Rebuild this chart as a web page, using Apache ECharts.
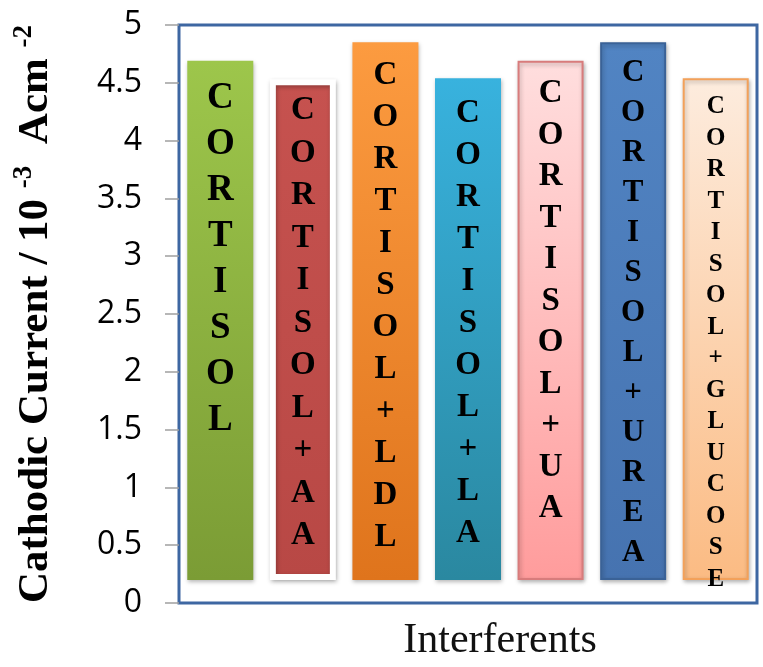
<!DOCTYPE html>
<html>
<head>
<meta charset="utf-8">
<script src="https://cdn.jsdelivr.net/npm/echarts@6/dist/echarts.min.js"></script>
<style>
  html, body { margin: 0; padding: 0; background: #fff; }
  #chart { width: 763px; height: 667px; }
</style>
</head>
<body>
<div id="chart"></div>
<script>
// Samples tested for interference
const categories = [
  'CORTISOL',
  'CORTISOL+AA',
  'CORTISOL+LDL',
  'CORTISOL+LA',
  'CORTISOL+UA',
  'CORTISOL+UREA',
  'CORTISOL+GLUCOSE'
];
// Cathodic current (10^-3 A cm^-2) at the top of each bar
const currentValues = [4.69, 4.53, 4.85, 4.54, 4.69, 4.85, 4.54];
// Bars are drawn floating from this level
const barBase = 0.2;
// Y tick range
const yMin = 0, yMax = 5, yStep = 0.5;

// Per-bar appearance: gradient colours, border, vertical letter sizing
const barLooks = [
  { top: '#9dc64b', bottom: '#7b9c35', border: null, bw: 0, fs: 37, lh: 46, d: 15 },
  { top: '#c6524f', bottom: '#b84845', border: '#ffffff', bw: 6, fs: 33, lh: 42.5, d: 10 },
  { top: '#fc9b40', bottom: '#df741c', border: null, bw: 0, fs: 33, lh: 42, d: 12 },
  { top: '#38b2de', bottom: '#2a88a0', border: null, bw: 0, fs: 33, lh: 42, d: 14 },
  { top: '#ffdede', bottom: '#ff9c9c', border: '#d87c7c', bw: 2, fs: 33, lh: 41.5, d: 12 },
  { top: '#5184c3', bottom: '#4673b0', border: '#3a6297', bw: 2, fs: 31, lh: 40, d: 11 },
  { top: '#fdecde', bottom: '#fbbb83', border: '#f3a15a', bw: 2, fs: 25, lh: 31.5, d: 13 }
];

const chart = echarts.init(document.getElementById('chart'), null, { renderer: 'canvas' });

const floatingData = currentValues.map((v, i) => {
  const s = barLooks[i];
  return {
    value: v - barBase,
    itemStyle: {
      color: {
        type: 'linear', x: 0, y: 0, x2: 0, y2: 1,
        colorStops: [{ offset: 0, color: s.top }, { offset: 1, color: s.bottom }]
      },
      borderColor: s.border || 'transparent',
      borderWidth: s.bw,
      shadowBlur: 4,
      shadowColor: 'rgba(0,0,0,0.28)',
      shadowOffsetX: 1,
      shadowOffsetY: 2
    },
    label: {
      fontSize: s.fs,
      lineHeight: s.lh,
      distance: s.d
    }
  };
});

chart.setOption({
  animation: false,
  grid: {
    left: 179, right: 6, top: 25, bottom: 60,
    show: true,
    borderColor: '#3e67a2',
    borderWidth: 3,
    backgroundColor: 'transparent'
  },
  xAxis: {
    type: 'category',
    data: categories,
    axisLine: { show: false },
    axisTick: { show: false },
    axisLabel: { show: false },
    name: 'Interferents',
    nameLocation: 'middle',
    nameGap: 17,
    nameTextStyle: {
      fontFamily: '"Liberation Serif", "Times New Roman", serif',
      fontSize: 42,
      color: '#111',
      padding: [0, 0, 0, 64]
    }
  },
  yAxis: {
    type: 'value',
    min: yMin,
    max: yMax,
    interval: yStep,
    splitLine: { show: false },
    axisLine: { show: false },
    axisTick: { show: true, length: 14, lineStyle: { color: '#a0a0a0', width: 1.5 } },
    axisLabel: {
      margin: 37,
      fontFamily: '"Open Sans", sans-serif',
      fontSize: 32,
      color: '#000'
    },
    name: '{b|Cathodic Current / 10 }{s|-3}{b|  Acm }{s|-2}',
    nameLocation: 'middle',
    nameRotate: 90,
    nameGap: 118,
    nameTextStyle: {
      rich: {
        b: {
          fontFamily: '"Liberation Serif", "Times New Roman", serif',
          fontWeight: 'bold',
          fontSize: 43,
          lineHeight: 50,
          color: '#000'
        },
        s: {
          fontFamily: '"Liberation Serif", "Times New Roman", serif',
          fontWeight: 'bold',
          fontSize: 27,
          lineHeight: 50,
          verticalAlign: 'top',
          color: '#000'
        }
      }
    }
  },
  series: [
    {
      type: 'bar',
      stack: 'current',
      data: currentValues.map(() => barBase),
      itemStyle: { color: 'transparent' },
      barWidth: 66,
      silent: true
    },
    {
      type: 'bar',
      stack: 'current',
      data: floatingData,
      barWidth: 66,
      label: {
        show: true,
        position: 'insideTop',
        color: '#000',
        fontFamily: '"Liberation Serif", "Times New Roman", serif',
        fontWeight: 'bold',
        align: 'center',
        formatter: (p) => p.name.split('').join('\n')
      }
    }
  ]
});
</script>
</body>
</html>
